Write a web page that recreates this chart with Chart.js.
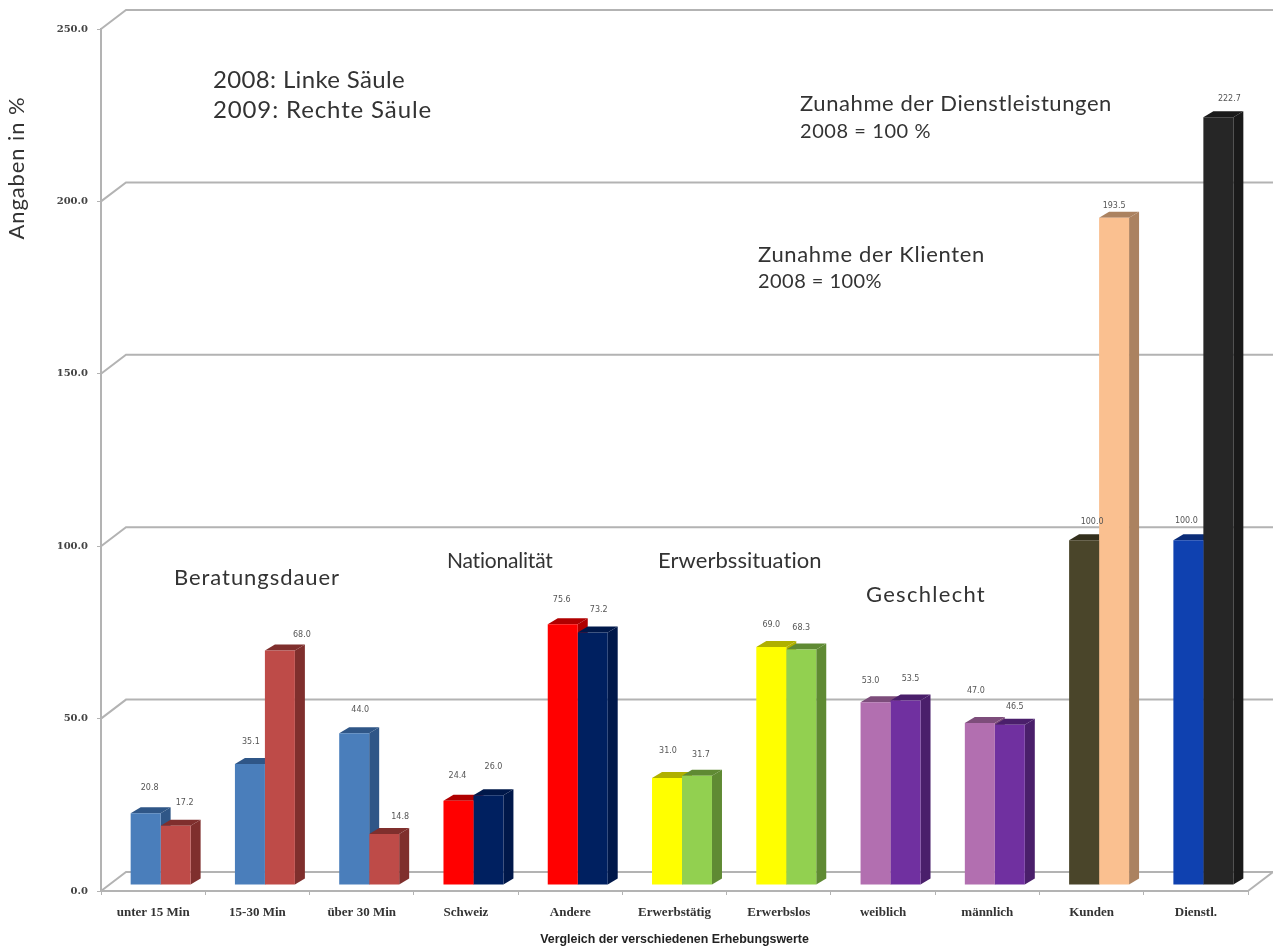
<!DOCTYPE html>
<html lang="de">
<head>
<meta charset="utf-8">
<title>Vergleich der verschiedenen Erhebungswerte</title>
<script src="https://cdn.jsdelivr.net/npm/chart.js@4"></script>
<style>
  html, body { margin: 0; padding: 0; background: #fff; }
  canvas { display: block; }
</style>
</head>
<body>
<canvas id="chart" width="1273" height="949"></canvas>
<script>
const categories = ['unter 15 Min', '15-30 Min', 'über 30 Min', 'Schweiz', 'Andere', 'Erwerbstätig', 'Erwerbslos', 'weiblich', 'männlich', 'Kunden', 'Dienstl.'];
const values2008 = [20.8, 35.1, 44.0, 24.4, 75.6, 31.0, 69.0, 53.0, 47.0, 100.0, 100.0];
const values2009 = [17.2, 68.0, 14.8, 26.0, 73.2, 31.7, 68.3, 53.5, 46.5, 193.5, 222.7];
const colors2008 = ['#4a7ebb', '#4a7ebb', '#4a7ebb', '#ff0000', '#ff0000', '#ffff00', '#ffff00', '#b26fb0', '#b26fb0', '#4a452a', '#0f41b0'];
const colors2009 = ['#be4b48', '#be4b48', '#be4b48', '#002060', '#002060', '#92d050', '#92d050', '#7030a0', '#7030a0', '#fac090', '#262626'];
const sides2008 = ['#2f5687', '#2f5687', '#2f5687', '#b00000', '#b00000', '#b0b000', '#b0b000', '#7d4d7b', '#7d4d7b', '#332f1c', '#0a2c78'];
const sides2009 = ['#7f2f2d', '#7f2f2d', '#7f2f2d', '#00184a', '#00184a', '#5f8a33', '#5f8a33', '#4a1f6b', '#4a1f6b', '#ab8260', '#1a1a1a'];

// value labels do not sit at a fixed distance from their bars, [dx, dy] from the bar top
const labelShift2008 = [[4, -25], [1, -22], [6, -23], [-1, -25], [-1, -24], [1, -27], [0, -22], [-5, -21], [-4, -32], [8, -18], [-2, -19]];
const labelShift2009 = [[9, -23], [22, -16], [16, -17], [5, -28], [6, -23], [4, -21], [0, -22], [5, -22], [5, -18], [0, -12], [11, -18]];

// free text placed on the picture, width is the length it has to fill
const notes = [
  { text: '2008: Linke Säule', x: 213, y: 80, size: 24, width: 192 },
  { text: '2009: Rechte Säule', x: 213, y: 110, size: 24, width: 219 },
  { text: 'Zunahme der Dienstleistungen', x: 800, y: 104, size: 22, width: 312 },
  { text: '2008 = 100 %', x: 800, y: 132, size: 20, width: 131 },
  { text: 'Zunahme der Klienten', x: 758, y: 255, size: 22, width: 227 },
  { text: '2008 = 100%', x: 758, y: 282, size: 20, width: 124 },
  { text: 'Beratungsdauer', x: 174, y: 578, size: 22, width: 166 },
  { text: 'Nationalität', x: 447, y: 561, size: 21, width: 106 },
  { text: 'Erwerbssituation', x: 658, y: 561, size: 22, width: 164 },
  { text: 'Geschlecht', x: 866, y: 595, size: 22, width: 120 },
];

const GRID = '#b3b3b3';
const WALL_DX = 25;
const WALL_DY = -19;
const BAR_DX = 7.5;
const BAR_DY = -6;
const DEPTH_DX = 10;
const DEPTH_DY = -6;
const NOTE_FONT = 'Lato, "Open Sans", sans-serif';

function fillPoly(ctx, color, pts) {
  ctx.fillStyle = color;
  ctx.beginPath();
  pts.forEach((p, i) => (i ? ctx.lineTo(p[0], p[1]) : ctx.moveTo(p[0], p[1])));
  ctx.closePath();
  ctx.fill();
}

// stretch a text to the wanted length with letter spacing
function fitText(ctx, text, size, width) {
  ctx.letterSpacing = '0px';
  ctx.font = size + 'px ' + NOTE_FONT;
  const extra = (width - ctx.measureText(text).width) / text.length;
  ctx.letterSpacing = extra.toFixed(2) + 'px';
}

const wallsAndDepth = {
  id: 'wallsAndDepth',
  beforeDatasetsDraw(chart) {
    const { ctx, chartArea, scales } = chart;
    const left = chartArea.left;
    const right = chartArea.right;

    // back wall lines and the diagonals on the left wall
    ctx.save();
    ctx.strokeStyle = GRID;
    ctx.lineWidth = 2;
    scales.y.ticks.forEach((tick) => {
      const y = scales.y.getPixelForValue(tick.value);
      ctx.beginPath();
      ctx.moveTo(left, y);
      ctx.lineTo(left + WALL_DX, y + WALL_DY);
      ctx.lineTo(right + WALL_DX, y + WALL_DY);
      ctx.stroke();
    });
    const y0 = scales.y.getPixelForValue(0);
    ctx.beginPath();
    ctx.moveTo(right, y0);
    ctx.lineTo(right + WALL_DX, y0 + WALL_DY);
    ctx.stroke();
    ctx.restore();

    // bars stand a little behind the front edge of the floor
    ctx.save();
    ctx.translate(BAR_DX, BAR_DY);
    const meta0 = chart.getDatasetMeta(0).data;
    const meta1 = chart.getDatasetMeta(1).data;
    categories.forEach((c, i) => {
      [[meta0[i], sides2008[i]], [meta1[i], sides2009[i]]].forEach(([bar, side]) => {
        const l = bar.x - bar.width / 2;
        const r = bar.x + bar.width / 2;
        const t = bar.y;
        const b = bar.base;
        fillPoly(ctx, side, [[r, t], [r + DEPTH_DX, t + DEPTH_DY], [r + DEPTH_DX, b + DEPTH_DY], [r, b]]);
        fillPoly(ctx, side, [[l, t], [l + DEPTH_DX, t + DEPTH_DY], [r + DEPTH_DX, t + DEPTH_DY], [r, t]]);
      });
    });
    ctx.restore();

    ctx.save();
    ctx.translate(BAR_DX, BAR_DY);
  },
  afterDatasetsDraw(chart) {
    const { ctx } = chart;
    ctx.restore();

    // value labels above the bars
    ctx.save();
    ctx.font = '8px "DejaVu Sans", sans-serif';
    ctx.fillStyle = '#555';
    ctx.textAlign = 'center';
    ctx.textBaseline = 'middle';
    chart.getDatasetMeta(0).data.forEach((bar, i) => {
      const [dx, dy] = labelShift2008[i];
      ctx.fillText(values2008[i].toFixed(1), bar.x + BAR_DX + dx, bar.y + BAR_DY + dy);
    });
    chart.getDatasetMeta(1).data.forEach((bar, i) => {
      const [dx, dy] = labelShift2009[i];
      ctx.fillText(values2009[i].toFixed(1), bar.x + BAR_DX + dx, bar.y + BAR_DY + dy);
    });
    ctx.restore();
  },
  afterDraw(chart) {
    const { ctx } = chart;
    ctx.save();
    ctx.fillStyle = '#333';
    ctx.textBaseline = 'middle';
    notes.forEach((n) => {
      fitText(ctx, n.text, n.size, n.width);
      ctx.fillText(n.text, n.x, n.y);
    });
    // y axis title sits well above the middle of the axis
    ctx.translate(17, 168);
    ctx.rotate(-Math.PI / 2);
    ctx.textAlign = 'center';
    fitText(ctx, 'Angaben in %', 22, 143);
    ctx.fillText('Angaben in %', 0, 0);
    ctx.restore();
  },
};

new Chart(document.getElementById('chart'), {
  type: 'bar',
  data: {
    labels: categories,
    datasets: [
      { label: '2008', data: values2008, backgroundColor: colors2008 },
      { label: '2009', data: values2009, backgroundColor: colors2009 },
    ],
  },
  plugins: [wallsAndDepth],
  options: {
    responsive: false,
    animation: false,
    layout: { autoPadding: false, padding: { top: 29, right: 25, left: 0, bottom: 0 } },
    categoryPercentage: 0.575,
    barPercentage: 1,
    plugins: {
      legend: { display: false },
      tooltip: { enabled: false },
      title: { display: false },
    },
    scales: {
      x: {
        afterFit: (scale) => { scale.height = 58; },
        border: { color: GRID, width: 2 },
        grid: { drawOnChartArea: false, color: GRID, tickLength: 4 },
        ticks: {
          color: '#333',
          padding: 10,
          maxRotation: 0,
          autoSkip: false,
          font: { family: '"Liberation Serif", serif', size: 13, weight: 'bold' },
        },
        title: {
          display: true,
          text: 'Vergleich der verschiedenen Erhebungswerte',
          color: '#222',
          padding: { top: 8, bottom: 2 },
          font: { family: '"Liberation Sans", sans-serif', size: 12.4, weight: 'bold' },
        },
      },
      y: {
        min: 0,
        max: 250,
        afterFit: (scale) => { scale.width = 101; },
        border: { color: GRID, width: 2 },
        grid: { drawOnChartArea: false, color: GRID, tickLength: 4 },
        ticks: {
          stepSize: 50,
          color: '#444',
          padding: 9,
          callback: (value) => value.toFixed(1),
          font: { family: '"DejaVu Serif", serif', size: 10, weight: 'bold' },
        },
      },
    },
  },
});
</script>
</body>
</html>
